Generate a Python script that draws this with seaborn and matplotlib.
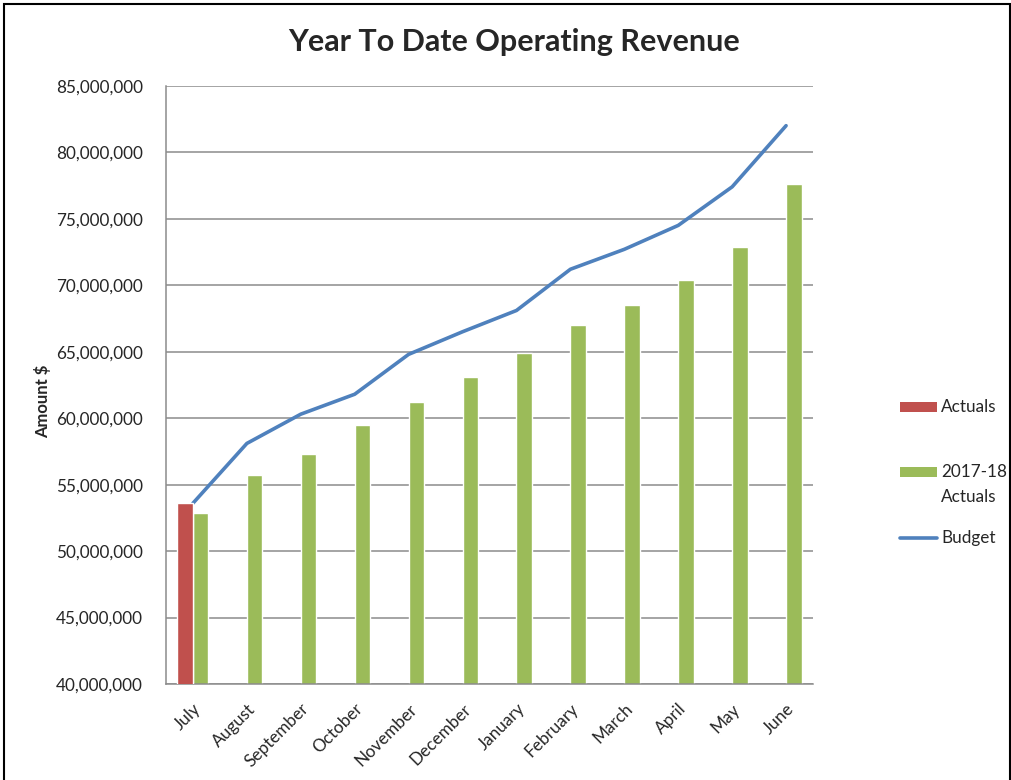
import numpy as np
import pandas as pd
import matplotlib
matplotlib.use("Agg")
import matplotlib.pyplot as plt
import seaborn as sns
from matplotlib.patches import Rectangle
from matplotlib.lines import Line2D

months = ["July", "August", "September", "October", "November", "December",
          "January", "February", "March", "April", "May", "June"]
actuals = [53.6, np.nan, np.nan, np.nan, np.nan, np.nan,
           np.nan, np.nan, np.nan, np.nan, np.nan, np.nan]
prior_actuals = [52.9, 55.7, 57.3, 59.5, 61.2, 63.1, 64.9, 67.0, 68.5, 70.4, 72.9, 77.6]
budget = [53.6, 58.1, 60.3, 61.8, 64.8, 66.5, 68.1, 71.2, 72.7, 74.5, 77.4, 82.0]

red = "#C0504D"
green = "#9BBB59"
blue = "#4F81BD"

sns.set_style("white")
plt.rcParams["font.family"] = ["Lato", "DejaVu Sans"]

bars = pd.DataFrame({
    "Month": months * 2,
    "Value": [v * 1e6 for v in actuals] + [v * 1e6 for v in prior_actuals],
    "Series": ["Actuals"] * 12 + ["2017-18 Actuals"] * 12,
})

fig = plt.figure(figsize=(10.12, 7.8), dpi=100)
ax = fig.add_axes([0.164, 0.123, 0.6394, 0.767])

# budget line sits under the red bar, over the green ones
ax.plot(np.arange(12), np.array(budget) * 1e6, color=blue, lw=2.6, zorder=2,
        solid_capstyle="round")
sns.barplot(data=bars, x="Month", y="Value", hue="Series", order=months,
            palette=[red, green], width=0.575, dodge=True, ax=ax,
            saturation=1, legend=False, zorder=1)
for p in ax.patches:
    if p.get_facecolor()[:3] == matplotlib.colors.to_rgb(red):
        p.set_zorder(3)

ax.set_ylim(40e6, 85e6)
ax.set_xlim(-0.5, 11.5)
ax.set_yticks(np.arange(40e6, 85e6 + 1, 5e6))
ax.yaxis.set_major_formatter(matplotlib.ticker.FuncFormatter(lambda v, p: f"{v:,.0f}"))
ax.yaxis.grid(True, color="#8c8c8c", lw=1.1)
ax.set_axisbelow(True)

ax.set_xticks(np.arange(12))
ax.set_xticklabels(months, rotation=45, ha="right", rotation_mode="anchor", fontsize=12.3)
ax.set_xticks(np.arange(-0.5, 12, 1), minor=True)
ax.tick_params(axis="x", which="major", length=0, pad=12)
ax.tick_params(axis="x", which="minor", length=5, color="#8c8c8c", direction="out")
ax.tick_params(axis="y", length=6.5, color="#8c8c8c", direction="out", labelsize=12.3, pad=10)

for s in ["top", "right"]:
    ax.spines[s].set_visible(False)
for s in ["left", "bottom"]:
    ax.spines[s].set_color("#8c8c8c")
    ax.spines[s].set_linewidth(1.1)

ax.set_xlabel("")
ax.set_ylabel("Amount $", fontsize=12, fontweight="bold")
ax.yaxis.set_label_coords(-0.178, 0.473)

fig.text(0.508, 0.946, "Year To Date Operating Revenue", ha="center", va="center",
         fontsize=22, fontweight="bold")

# legend drawn by hand: the two-line label keeps its key on the first line
legend_items = [("Patch", red, ["Actuals"], 407),
                ("Patch", green, ["2017-18", "Actuals"], 472),
                ("Line", blue, ["Budget"], 538)]
for kind, colour, lines, ypix in legend_items:
    yf = 1 - ypix / 780
    if kind == "Patch":
        fig.add_artist(Rectangle((900 / 1012, yf - 4.7 / 780), 37 / 1012, 9.4 / 780,
                                 transform=fig.transFigure, facecolor=colour,
                                 edgecolor="none"))
    else:
        fig.add_artist(Line2D([900 / 1012, 937 / 1012], [yf, yf], transform=fig.transFigure,
                              color=colour, lw=2.6, solid_capstyle="round"))
    for i, t in enumerate(lines):
        fig.text(941 / 1012, 1 - (ypix + 25 * i) / 780, t, ha="left", va="center",
                 fontsize=12.3)

fig.add_artist(Rectangle((0.004, -0.01), 0.994, 1.005, transform=fig.transFigure,
                         fill=False, edgecolor="black", lw=1.5))

fig.savefig("out.png", dpi=100)
